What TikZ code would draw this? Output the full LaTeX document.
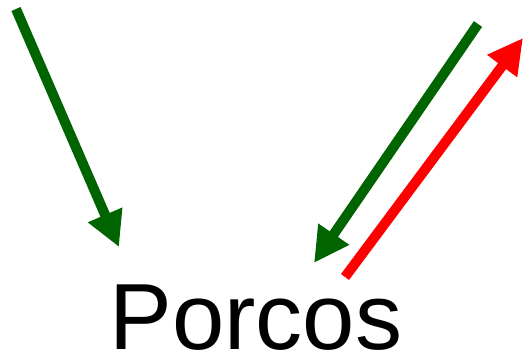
\documentclass[tikz,border=0pt]{standalone}
\usepackage{fontspec}
\setmainfont{Liberation Sans}
\usetikzlibrary{arrows.meta}
\definecolor{dgreen}{HTML}{006400}
\begin{document}
\begin{tikzpicture}[x=1pt,y=-1pt,
  arr/.style={line width=10pt,-{Triangle[length=35pt,width=35pt]}}]
\useasboundingbox (0,0) rectangle (525,355);
\coordinate (a1) at (16,9);
\coordinate (b1) at (119,247);
\coordinate (a2) at (478,24);
\coordinate (b2) at (314,263);
\coordinate (a3) at (345,277);
\coordinate (b3) at (523,38);
\draw[arr,dgreen] (a1) -- (b1);
\draw[arr,dgreen] (a2) -- (b2);
\draw[arr,red] (a3) -- (b3);
\node[anchor=base,inner sep=0pt,font=\fontsize{94}{94}\selectfont] (t) at (256,349.5) {Porcos};
\end{tikzpicture}
\end{document}
